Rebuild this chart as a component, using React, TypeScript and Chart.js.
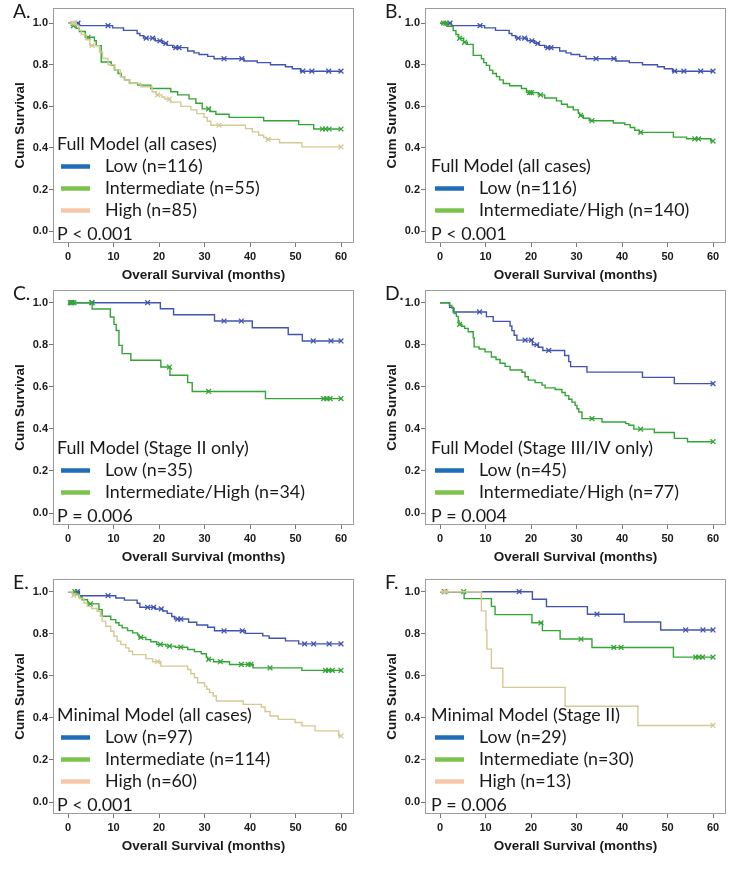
import React, { useEffect, useRef } from "react";
import { Chart, registerables } from "chart.js";

Chart.register(...registerables);

type Pt = [number, number];

// ---------- axis ticks ----------
const xTicks = [0, 10, 20, 30, 40, 50, 60];
const yTicks = [0, 0.2, 0.4, 0.6, 0.8, 1.0];

// ---------- A / B: Full model, all cases ----------
const lowFullAllSteps: Pt[] = [[0,1],[2.5,0.988],[9.8,0.977],[12.2,0.965],[15.2,0.95],[15.8,0.94],[16.6,0.928],[19.2,0.915],[20.8,0.903],[21.8,0.893],[23,0.882],[26.3,0.866],[27.7,0.857],[28.8,0.849],[30.7,0.84],[32.1,0.829],[38.7,0.818],[41.6,0.81],[44.5,0.8],[47.8,0.79],[49.3,0.781],[51.1,0.769],[60,0.769]];
const lowFullAllCens = [2.2, 8.8, 17.2, 18.6, 20.2, 21.5, 23.7, 24.4, 34.3, 38.2, 51.6, 53.6, 57.3, 60];

const intFullAllSteps: Pt[] = [[0,1],[0.8,0.988],[1.8,0.975],[2.5,0.96],[3.8,0.932],[5.8,0.915],[6.2,0.892],[7.3,0.813],[9.5,0.797],[10.2,0.774],[11,0.758],[11.7,0.743],[12.4,0.727],[13.5,0.711],[15.3,0.702],[18.2,0.686],[22.6,0.67],[24.1,0.655],[26.6,0.636],[28.1,0.615],[29.5,0.588],[31.2,0.575],[32.5,0.562],[35.4,0.547],[43,0.531],[50.7,0.512],[54,0.491],[60,0.491]];
const intFullAllCens = [1.2, 4.4, 30.9, 55.9, 56.6, 57.4, 60];

const highFullAllSteps: Pt[] = [[0,1],[1.8,0.988],[2.4,0.965],[2.9,0.945],[4,0.92],[4.8,0.892],[6.9,0.861],[7.6,0.83],[8.8,0.8],[10.3,0.775],[11.5,0.742],[12.5,0.727],[13.6,0.71],[16,0.694],[18.5,0.67],[19.4,0.655],[20.6,0.645],[21.3,0.635],[22.5,0.62],[24.8,0.6],[27,0.583],[28.3,0.565],[29.9,0.547],[30.6,0.528],[31.4,0.509],[39,0.493],[40.5,0.477],[41.9,0.461],[43,0.45],[43.6,0.441],[46.5,0.425],[51.4,0.405],[60,0.405]];
const highFullAllCens = [1.0, 1.5, 5.3, 19.7, 22.3, 33.2, 44, 60];

const intHighFullAllSteps: Pt[] = [[0,1],[1.5,0.985],[2.9,0.964],[3.5,0.945],[4.1,0.927],[5.2,0.908],[6,0.898],[7.3,0.845],[9.1,0.829],[9.6,0.81],[10.2,0.797],[10.9,0.774],[11.6,0.758],[12.4,0.743],[13.1,0.727],[13.9,0.71],[15.3,0.699],[17.9,0.686],[19,0.666],[21.6,0.655],[23,0.64],[25.6,0.626],[26.7,0.61],[28,0.597],[29.3,0.583],[30.4,0.568],[30.7,0.556],[31.5,0.543],[32.8,0.531],[38.1,0.52],[40.6,0.512],[41.8,0.498],[42.8,0.485],[43.8,0.475],[51.3,0.452],[54.2,0.444],[59.5,0.433],[60,0.433]];
const intHighFullAllCens = [0.8, 1.3, 4.3, 5.4, 19.7, 20.1, 22.1, 30.9, 33.4, 44.1, 56, 56.8, 60];

// ---------- C: Full model, stage II ----------
const lowFullS2Steps: Pt[] = [[0,1],[20.3,0.971],[23.2,0.943],[32.2,0.913],[40.5,0.881],[48.4,0.849],[51.5,0.818],[60,0.818]];
const lowFullS2Cens = [0.8, 5.3, 17.5, 34.3, 38.1, 53.9, 57.8, 60];
const intHighFullS2Steps: Pt[] = [[0,1],[5.3,0.97],[9.3,0.932],[10.1,0.897],[10.6,0.868],[11.2,0.797],[11.9,0.758],[13.8,0.726],[20.4,0.694],[22.4,0.655],[26.3,0.62],[27.3,0.578],[43.4,0.544],[60,0.544]];
const intHighFullS2Cens = [0.5, 0.9, 1.3, 5.2, 22.3, 30.9, 56.2, 56.9, 57.6, 60];

// ---------- D: Full model, stage III/IV ----------
const lowFullS34Steps: Pt[] = [[0,1],[2.1,0.978],[2.9,0.956],[10.2,0.934],[11.7,0.911],[15.4,0.889],[15.8,0.867],[16.3,0.845],[16.9,0.822],[20.3,0.8],[21.6,0.788],[22.6,0.773],[27.4,0.749],[28.3,0.72],[28.7,0.696],[32.3,0.67],[44.5,0.645],[51.5,0.615],[60,0.615]];
const lowFullS34Cens = [8.7, 18.7, 20.1, 21.3, 23.9, 60];
const intHighFullS34Steps: Pt[] = [[0,1],[2.1,0.987],[2.6,0.974],[3.1,0.949],[3.6,0.935],[4,0.913],[4.2,0.897],[4.8,0.888],[5.4,0.878],[6.2,0.862],[7.3,0.833],[7.5,0.79],[8.6,0.78],[9.9,0.766],[11.3,0.742],[12.3,0.73],[13.2,0.712],[14.3,0.697],[15.4,0.68],[18,0.669],[18.7,0.648],[19.4,0.632],[20.9,0.62],[22.4,0.608],[23.1,0.595],[25.3,0.587],[26.8,0.573],[27.5,0.558],[28.3,0.541],[29,0.527],[29.7,0.512],[30.1,0.496],[30.5,0.48],[31.2,0.449],[35.6,0.433],[40.8,0.425],[41.5,0.417],[42.6,0.399],[47.1,0.383],[51.5,0.355],[54.4,0.339],[60,0.339]];
const intHighFullS34Cens = [4.3, 33.4, 44.1, 60];

// ---------- E: Minimal model, all cases ----------
const lowMinAllSteps: Pt[] = [[0,1],[2.5,0.981],[10.5,0.97],[12.4,0.96],[15.2,0.945],[15.8,0.926],[19.2,0.918],[20.8,0.908],[21.8,0.897],[22.8,0.882],[23.4,0.87],[26.5,0.855],[28.3,0.842],[30.7,0.831],[32.2,0.814],[39,0.802],[42.8,0.79],[44.2,0.779],[47.8,0.766],[50.7,0.752],[60,0.752]];
const lowMinAllCens = [2.1, 8.8, 17.5, 18.8, 20.5, 24.1, 24.8, 34.3, 38.3, 52, 54, 57.4, 60];
const intMinAllSteps: Pt[] = [[0,1],[1.6,0.989],[2.4,0.976],[3.1,0.962],[4.3,0.942],[6.8,0.915],[7.5,0.883],[9.4,0.867],[10.5,0.852],[11.2,0.84],[11.9,0.828],[13.1,0.815],[14.2,0.804],[15.3,0.794],[15.6,0.783],[17.1,0.772],[18.2,0.762],[19.5,0.749],[21.5,0.741],[23.6,0.736],[26.3,0.725],[27.8,0.715],[29.3,0.705],[30.4,0.689],[30.7,0.678],[32,0.667],[35.5,0.654],[40.7,0.638],[51.4,0.626],[60,0.626]];
const intMinAllCens = [1.5, 4.9, 16, 20.3, 22.3, 24.8, 30.9, 33.5, 38.1, 39.6, 40.2, 44.4, 56.6, 57.3, 58.1, 60];
const highMinAllSteps: Pt[] = [[0,1],[1,0.983],[2.5,0.967],[3.5,0.946],[4.2,0.93],[5.2,0.92],[6.4,0.907],[7.1,0.883],[7.5,0.86],[8.3,0.836],[9.4,0.812],[10.1,0.788],[10.8,0.765],[11.6,0.749],[12.7,0.733],[13.4,0.717],[14.2,0.701],[17.1,0.682],[18.6,0.667],[20.4,0.646],[26.3,0.63],[27,0.61],[27.8,0.591],[28.5,0.567],[30,0.551],[30.5,0.536],[31.1,0.52],[31.9,0.504],[32.6,0.48],[38.5,0.464],[42.5,0.452],[43.3,0.43],[44.4,0.409],[46.2,0.393],[49.9,0.378],[51.4,0.362],[54.3,0.338],[59.5,0.314],[60,0.314]];
const highMinAllCens = [1.3, 19.7, 60];

// ---------- F: Minimal model, stage II ----------
const lowMinS2Steps: Pt[] = [[0,1],[20.3,0.964],[23.4,0.929],[32.4,0.893],[40.5,0.856],[48.5,0.818],[60,0.818]];
const lowMinS2Cens = [1.0, 17.4, 34.5, 54, 57.8, 60];
const intMinS2Steps: Pt[] = [[0,1],[5.3,0.967],[11.3,0.93],[12.1,0.891],[20.2,0.852],[22.5,0.815],[26.4,0.775],[33.4,0.735],[51.3,0.689],[60,0.689]];
const intMinS2Cens = [5.2, 22.2, 31, 38.2, 39.8, 56.2, 56.9, 57.7, 60];
const highMinS2Steps: Pt[] = [[0,1],[9.1,0.909],[10.1,0.818],[10.3,0.727],[11.3,0.636],[13.8,0.545],[27.5,0.455],[43.5,0.364],[60,0.364]];
const highMinS2Cens = [0.8, 1.3, 60];

// ---------- styling ----------
const CURVE: Record<string, string> = { low: "#4155b0", int: "#33a535", high: "#d4ca94" };
const KEY: Record<string, string> = { low: "#1f6cb8", int: "#7cc34b", high: "#f7c6a8" };

type Series = { kind: "low" | "int" | "high"; label: string; steps: Pt[]; cens: number[] };
type PanelCfg = {
  letter: string; title: string; p: string;
  left: number; top: number; boxTop: number; dx: number;
  series: Series[];
};

const panels: PanelCfg[] = [
  { letter: "A.", title: "Full Model (all cases)", p: "P < 0.001", left: 0, top: 0, boxTop: 5, dx: 0,
    series: [
      { kind: "low", label: "Low (n=116)", steps: lowFullAllSteps, cens: lowFullAllCens },
      { kind: "int", label: "Intermediate (n=55)", steps: intFullAllSteps, cens: intFullAllCens },
      { kind: "high", label: "High (n=85)", steps: highFullAllSteps, cens: highFullAllCens },
    ] },
  { letter: "B.", title: "Full Model (all cases)", p: "P < 0.001", left: 372, top: 0, boxTop: 5, dx: 2,
    series: [
      { kind: "low", label: "Low (n=116)", steps: lowFullAllSteps, cens: lowFullAllCens },
      { kind: "int", label: "Intermediate/High (n=140)", steps: intHighFullAllSteps, cens: intHighFullAllCens },
    ] },
  { letter: "C.", title: "Full Model (Stage II only)", p: "P = 0.006", left: 0, top: 282, boxTop: 8, dx: 0,
    series: [
      { kind: "low", label: "Low (n=35)", steps: lowFullS2Steps, cens: lowFullS2Cens },
      { kind: "int", label: "Intermediate/High (n=34)", steps: intHighFullS2Steps, cens: intHighFullS2Cens },
    ] },
  { letter: "D.", title: "Full Model (Stage III/IV only)", p: "P = 0.004", left: 372, top: 282, boxTop: 8, dx: 2,
    series: [
      { kind: "low", label: "Low (n=45)", steps: lowFullS34Steps, cens: lowFullS34Cens },
      { kind: "int", label: "Intermediate/High (n=77)", steps: intHighFullS34Steps, cens: intHighFullS34Cens },
    ] },
  { letter: "E.", title: "Minimal Model (all cases)", p: "P < 0.001", left: 0, top: 571, boxTop: 8, dx: 0,
    series: [
      { kind: "low", label: "Low (n=97)", steps: lowMinAllSteps, cens: lowMinAllCens },
      { kind: "int", label: "Intermediate (n=114)", steps: intMinAllSteps, cens: intMinAllCens },
      { kind: "high", label: "High (n=60)", steps: highMinAllSteps, cens: highMinAllCens },
    ] },
  { letter: "F.", title: "Minimal Model (Stage II)", p: "P = 0.006", left: 372, top: 571, boxTop: 8, dx: 2,
    series: [
      { kind: "low", label: "Low (n=29)", steps: lowMinS2Steps, cens: lowMinS2Cens },
      { kind: "int", label: "Intermediate (n=30)", steps: intMinS2Steps, cens: intMinS2Cens },
      { kind: "high", label: "High (n=13)", steps: highMinS2Steps, cens: highMinS2Cens },
    ] },
];

const CW = 370;
const CH = 290;
const BOX_BOTTOM = 243;
const BOX_RIGHT = 354;
const Y_LEFT = 53;
const PX_PER_UNIT = 210.3;
const X0 = 68;
const PX_PER_MONTH = 4.55;

function survAt(steps: Pt[], t: number): number {
  let v = steps[0][1];
  for (const [x, y] of steps) {
    if (x <= t + 1e-9) v = y;
    else break;
  }
  return v;
}

const AXIS_FONT = "'Liberation Sans', Arial, sans-serif";
const KEY_FONT = "Lato, 'Open Sans', sans-serif";

const kmDecor = {
  id: "kmDecor",
  afterDraw(chart: any, _args: any, o: any) {
    const { ctx, chartArea: a } = chart;
    ctx.save();
    ctx.strokeStyle = "#9c9c9c";
    ctx.lineWidth = 1;
    ctx.strokeRect(Math.round(a.left) + 0.5, Math.round(a.top) + 0.5, Math.round(a.right - a.left) - 1, Math.round(a.bottom - a.top) - 1);

    ctx.font = `100px ${KEY_FONT}`;
    const fs = (160 / ctx.measureText("Full Model (all cases)").width) * 100;
    const dx = o.dx;
    const entries = o.entries as { label: string; color: string }[];
    const n = entries.length;
    const pY = 234.5;
    ctx.font = `${fs}px ${KEY_FONT}`;
    ctx.fillStyle = "#1a1a1a";
    ctx.textAlign = "left";
    ctx.textBaseline = "middle";
    const rowY = (i: number) => pY - 24 - (n - 1 - i) * 22;
    ctx.fillText(o.title, 57 + dx, rowY(0) - 22);
    entries.forEach((e, i) => {
      const y = rowY(i);
      ctx.strokeStyle = e.color;
      ctx.lineWidth = 4.5;
      ctx.lineCap = "butt";
      ctx.beginPath();
      ctx.moveTo(61 + dx, y);
      ctx.lineTo(90 + dx, y);
      ctx.stroke();
      ctx.fillText(e.label, 105 + dx, y);
    });
    ctx.fillText(o.p, 57 + dx, pY);

    ctx.font = `${fs * 1.08}px ${KEY_FONT}`;
    ctx.textBaseline = "alphabetic";
    ctx.fillText(o.letter, 13, 18);
    ctx.restore();
  },
};

function buildConfig(p: PanelCfg): any {
  const datasets: any[] = [];
  p.series.forEach((s, i) => {
    datasets.push({
      data: s.steps.map(([x, y]) => ({ x, y })),
      borderColor: CURVE[s.kind],
      borderWidth: 1.4,
      stepped: "before",
      pointRadius: 0,
      fill: false,
      order: 10 - i * 2,
    });
    datasets.push({
      data: s.cens.map((t) => ({ x: t, y: survAt(s.steps, t) })),
      showLine: false,
      pointStyle: "crossRot",
      pointRadius: 3.4,
      pointBorderWidth: 1.3,
      pointBorderColor: CURVE[s.kind],
      pointBackgroundColor: CURVE[s.kind],
      borderColor: CURVE[s.kind],
      order: 9 - i * 2,
    });
  });

  const yMax = 1 + (1 - 0) * 0 + ((BOX_BOTTOM - p.boxTop) - 12 - PX_PER_UNIT) / PX_PER_UNIT;
  const yMin = -12 / PX_PER_UNIT;
  const xMin = -(X0 - Y_LEFT) / PX_PER_MONTH;
  const xMax = 60 + (BOX_RIGHT - (X0 + 60 * PX_PER_MONTH)) / PX_PER_MONTH;

  const tickFont = { family: AXIS_FONT, size: 11, weight: "bold" as const };
  const titleFont = { family: AXIS_FONT, size: 13.5, weight: "bold" as const };

  return {
    type: "line",
    data: { datasets },
    options: {
      animation: false,
      responsive: false,
      devicePixelRatio: 1,
      events: [],
      layout: { padding: { top: p.boxTop, right: CW - BOX_RIGHT, bottom: 0, left: 0 } },
      plugins: {
        legend: { display: false },
        tooltip: { enabled: false },
        kmDecor: {
          letter: p.letter,
          title: p.title,
          p: p.p,
          dx: p.dx,
          entries: p.series.map((s) => ({ label: s.label, color: KEY[s.kind] })),
        },
      },
      scales: {
        x: {
          type: "linear",
          min: xMin,
          max: xMax,
          afterBuildTicks: (s: any) => { s.ticks = xTicks.map((v) => ({ value: v })); },
          afterFit: (s: any) => { s.height = CH - BOX_BOTTOM; },
          grid: { drawOnChartArea: false, drawTicks: true, tickLength: 4, color: "#777" },
          border: { display: false },
          ticks: { padding: 3, color: "#1a1a1a", font: tickFont, maxRotation: 0, autoSkip: false, callback: (v: any) => String(v) },
          title: { display: true, text: "Overall Survival (months)", color: "#1a1a1a", font: titleFont, padding: { top: 0, bottom: 7 } },
        },
        y: {
          type: "linear",
          min: yMin,
          max: yMax,
          afterBuildTicks: (s: any) => { s.ticks = yTicks.map((v) => ({ value: v })); },
          afterFit: (s: any) => { s.width = Y_LEFT; },
          grid: { drawOnChartArea: false, drawTicks: true, tickLength: 4, color: "#777" },
          border: { display: false },
          ticks: { padding: 1, color: "#1a1a1a", font: tickFont, callback: (v: any) => Number(v).toFixed(1) },
          title: { display: true, text: "Cum Survival", color: "#1a1a1a", font: titleFont, padding: { top: 12, bottom: 0 } },
        },
      },
    },
    plugins: [kmDecor],
  };
}

function Panel({ cfg }: { cfg: PanelCfg }) {
  const ref = useRef<HTMLCanvasElement | null>(null);
  useEffect(() => {
    if (!ref.current) return;
    const chart = new Chart(ref.current, buildConfig(cfg));
    return () => chart.destroy();
  }, [cfg]);
  return (
    <canvas
      ref={ref}
      width={CW}
      height={CH}
      style={{ position: "absolute", left: cfg.left, top: cfg.top, width: CW, height: CH }}
    />
  );
}

export default function App() {
  return (
    <div style={{ position: "absolute", left: 0, top: 0, width: 742, height: 870, background: "#fff", overflow: "hidden" }}>
      {panels.map((p) => (
        <Panel key={p.letter} cfg={p} />
      ))}
    </div>
  );
}
